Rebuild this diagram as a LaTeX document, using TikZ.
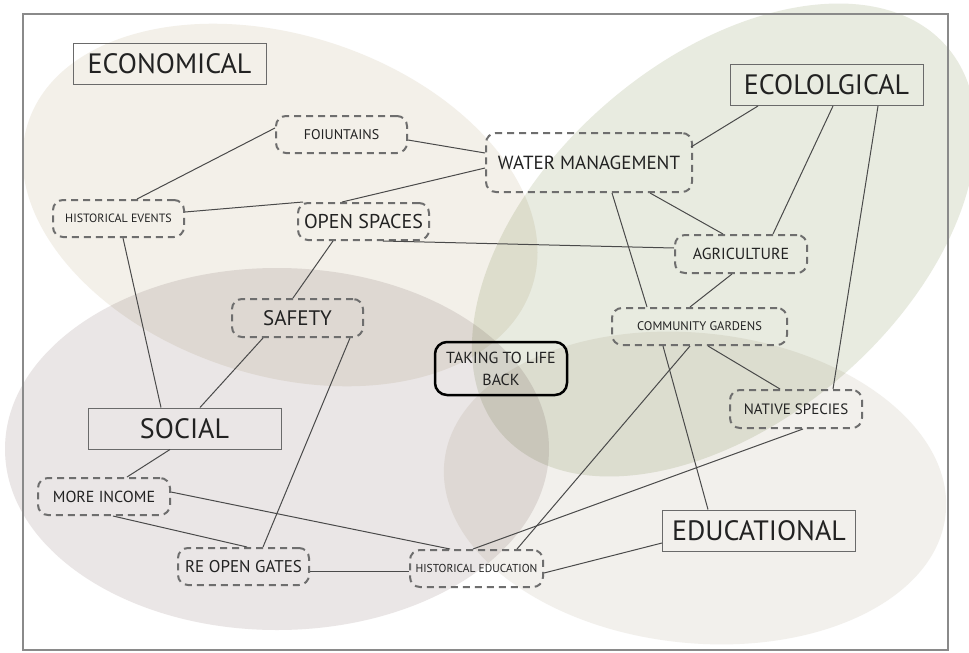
\documentclass[tikz,border=0pt]{standalone}
\usepackage{fontspec}
\setmainfont{PT Sans}
\definecolor{beigeF}{HTML}{F3F0E9}
\definecolor{greenF}{HTML}{E8EBE0}
\definecolor{socF}{HTML}{EAE6E6}
\definecolor{eduF}{HTML}{F2F0EC}
\definecolor{framec}{HTML}{8A8A8A}
\definecolor{catline}{HTML}{6A6A6A}
\definecolor{dashc}{HTML}{6E6E6E}
\definecolor{linec}{HTML}{4A4A4A}
\definecolor{txt}{HTML}{222222}
\begin{document}
\begin{tikzpicture}[x=1pt,y=-1pt,
  cat/.style={draw=catline, line width=1pt, minimum width=193pt, minimum height=41pt, inner sep=0pt, text=txt, font=\fontsize{28}{30}\selectfont},
  dbox/.style={draw=dashc, line width=2pt, dash pattern=on 7pt off 5pt, rounded corners=10pt, inner sep=0pt, text=txt},
  conn/.style={draw=linec, line width=1pt}]
\useasboundingbox (0,0) rectangle (969,653);
\fill[white] (0,0) rectangle (969,653);
\begin{scope}[blend mode=multiply]
  \fill[beigeF, rotate around={-18:(280,205)}] (280,205) ellipse [x radius=265, y radius=170];
  \fill[greenF, rotate around={41:(724,240)}] (724,240) ellipse [x radius=295, y radius=180];
  \fill[socF] (277,449) ellipse [x radius=272, y radius=181];
  \fill[eduF, rotate around={-6:(695,488)}] (695,488) ellipse [x radius=252, y radius=155];
\end{scope}
\draw[framec, line width=1.5pt] (23,14) rectangle (948,650);

\node[cat] (econ) at (169.5,63.5) {ECONOMICAL};
\node[cat] (ecol) at (826.5,85) {ECOLOLGICAL};
\node[cat] (soc) at (184.5,428.5) {SOCIAL};
\node[cat] (edu) at (759,530.5) {EDUCATIONAL};

\node[dbox, minimum width=131pt, minimum height=37pt, font=\fontsize{14}{16}\selectfont] (fount) at (341.5,134.5) {FOIUNTAINS};
\node[dbox, minimum width=131pt, minimum height=37pt, font=\fontsize{12}{14}\selectfont] (hev) at (118.5,218.5) {HISTORICAL EVENTS};
\node[dbox, minimum width=131pt, minimum height=37pt, font=\fontsize{20}{22}\selectfont] (os) at (363.5,221.5) {OPEN SPACES};
\node[dbox, minimum width=206pt, minimum height=59pt, font=\fontsize{19}{21}\selectfont] (wm) at (589,162.5) {WATER MANAGEMENT};
\node[dbox, minimum width=132pt, minimum height=38pt, font=\fontsize{16}{18}\selectfont] (agr) at (741,254) {AGRICULTURE};
\node[dbox, minimum width=175pt, minimum height=37pt, font=\fontsize{12.5}{14}\selectfont] (cg) at (699.5,326.5) {COMMUNITY GARDENS};
\node[dbox, minimum width=131pt, minimum height=38pt, font=\fontsize{21}{23}\selectfont] (saf) at (297.5,318) {SAFETY};
\node[dbox, minimum width=132pt, minimum height=38pt, font=\fontsize{15}{17}\selectfont] (ns) at (796,409) {NATIVE SPECIES};
\node[dbox, minimum width=132pt, minimum height=37pt, font=\fontsize{16}{18}\selectfont] (mi) at (104,496.5) {MORE INCOME};
\node[dbox, minimum width=131pt, minimum height=37pt, font=\fontsize{17}{19}\selectfont] (rog) at (243.5,566.5) {RE OPEN GATES};
\node[dbox, minimum width=133pt, minimum height=37pt, font=\fontsize{11.5}{13}\selectfont] (hed) at (476.5,568.5) {HISTORICAL EDUCATION};
\node[draw=black, line width=2.5pt, rounded corners=12pt, minimum width=132pt, minimum height=53pt, inner sep=0pt, align=center, text=txt, font=\fontsize{16}{22}\selectfont] (take) at (501,368.5) {TAKING TO LIFE\\BACK};

\draw[conn] ([yshift=6.5pt]fount.west) -- ([xshift=18.5pt]hev.north);
\draw[conn] ([yshift=-5.5pt]fount.east) -- ([yshift=9.5pt]wm.west);
\draw[conn] ([yshift=6.5pt]hev.east) -- ([xshift=-60.5pt]os.north);
\draw[conn] ([xshift=-21.5pt]os.north) -- ([yshift=-5.5pt]wm.west);
\draw[conn] ([xshift=19.5pt]os.south) -- ([yshift=6pt]agr.west);
\draw[conn] ([xshift=-30.5pt]os.south) -- ([xshift=-4.5pt]saf.north);
\draw[conn] ([xshift=4.5pt]hev.south) -- ([xshift=-23.5pt]soc.north);
\draw[conn] ([xshift=-34.5pt]saf.south) -- ([xshift=15.5pt]soc.north);
\draw[conn] ([xshift=52.5pt]saf.south) -- ([xshift=19.5pt]rog.north);
\draw[conn] ([xshift=-14.5pt]soc.south) -- ([xshift=23pt]mi.north);
\draw[conn] ([xshift=9pt]mi.south) -- ([xshift=3.5pt]rog.north);
\draw[conn] ([yshift=4.5pt]mi.east) -- ([xshift=-26.5pt]hed.north);
\draw[conn] ([yshift=-4.5pt]rog.east) -- ([yshift=-2.5pt]hed.west);
\draw[conn] ([yshift=-4.5pt]hed.east) -- ([yshift=-12.5pt]edu.west);
\draw[conn] ([xshift=-3.5pt]hed.north) -- ([xshift=7pt]ns.south);
\draw[conn] ([xshift=40.5pt]hed.north) -- ([xshift=-9.5pt]cg.south);
\draw[conn] ([xshift=-36.5pt]cg.south) -- ([xshift=-51pt]edu.north);
\draw[conn] ([xshift=8.5pt]cg.south) -- ([xshift=-16pt]ns.north);
\draw[conn] ([xshift=51.5pt]ecol.south) -- ([xshift=37pt]ns.north);
\draw[conn] ([xshift=6.5pt]ecol.south) -- ([xshift=32pt]agr.north);
\draw[conn] ([xshift=-68.5pt]ecol.south) -- ([xshift=-2pt,yshift=15.5pt]wm.east);
\draw[conn] ([xshift=61pt]wm.south) -- ([xshift=-18pt]agr.north);
\draw[conn] ([xshift=23pt]wm.south) -- ([xshift=-52.5pt]cg.north);
\draw[conn] ([xshift=-9pt]agr.south) -- ([xshift=-9.5pt]cg.north);
\end{tikzpicture}
\end{document}
